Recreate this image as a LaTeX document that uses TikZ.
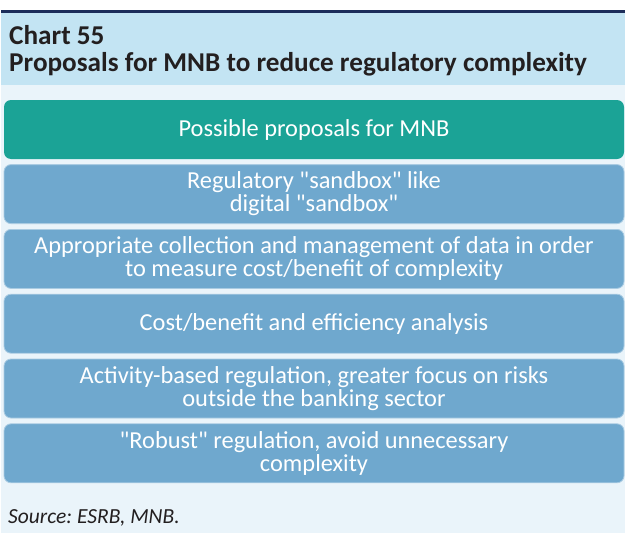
\documentclass[tikz,border=0pt]{standalone}
\usepackage{fontspec}
\setmainfont{Carlito}
\usepackage{tikz}
\usetikzlibrary{positioning}
\usepackage{xcolor}
\frenchspacing

\definecolor{navyline}{HTML}{1C2D5A}
\definecolor{titlebg}{HTML}{C3E4F3}
\definecolor{chartbg}{HTML}{EAF4FA}
\definecolor{tealbox}{HTML}{1BA396}
\definecolor{bluebox}{HTML}{6FA8CE}
\definecolor{darktext}{HTML}{231F20}

\newcommand{\qq}[1]{\textquotedbl#1\textquotedbl}

\begin{document}
\begin{tikzpicture}[
    x=1pt, y=-1pt,
    headbox/.style = {rectangle, rounded corners=7pt, fill=tealbox, text=white, align=center, minimum width=620pt, minimum height=59pt, inner sep=0pt, font=\fontsize{24.4}{23}\selectfont},
    propbox/.style = {headbox, fill=bluebox, draw=white!40!bluebox, line width=0.8pt}
]

% Background and title panel
\useasboundingbox (0,0) rectangle (625,533);
\fill [white] (0,0) rectangle (625,533);
\fill [chartbg] (1,85) rectangle (625,533);
\fill [titlebg] (1,12) rectangle (625,85);
\fill [navyline] (1,10) rectangle (625,12.5);

% Title
\node (title) [anchor=north west, inner sep=0pt, align=left, text=darktext, font=\bfseries\fontsize{27.2}{27}\selectfont] at (9,25) {Chart 55\\Proposals for MNB to reduce regulatory complexity};

% Boxes
\node (head) [headbox] at (314,129.5) {Possible proposals for MNB};
\node (sandbox) [propbox, below=5pt of head] {Regulatory \qq{sandbox} like\\digital \qq{sandbox}};
\node (data) [propbox, below=5pt of sandbox] {Appropriate collection and management of data in order\\to measure cost/benefit of complexity};
\node (costben) [propbox, below=5pt of data] {Cost/benefit and efficiency analysis};
\node (activity) [propbox, below=5pt of costben] {Activity-based regulation, greater focus on risks\\outside the banking sector};
\node (robust) [propbox, below=5pt of activity] {\qq{Robust} regulation, avoid unnecessary\\complexity};

% Source
\node (source) [anchor=base west, inner sep=0pt, text=darktext, font=\itshape\fontsize{21.5}{22}\selectfont] at (8,523) {Source: ESRB, MNB.};

\end{tikzpicture}
\end{document}
